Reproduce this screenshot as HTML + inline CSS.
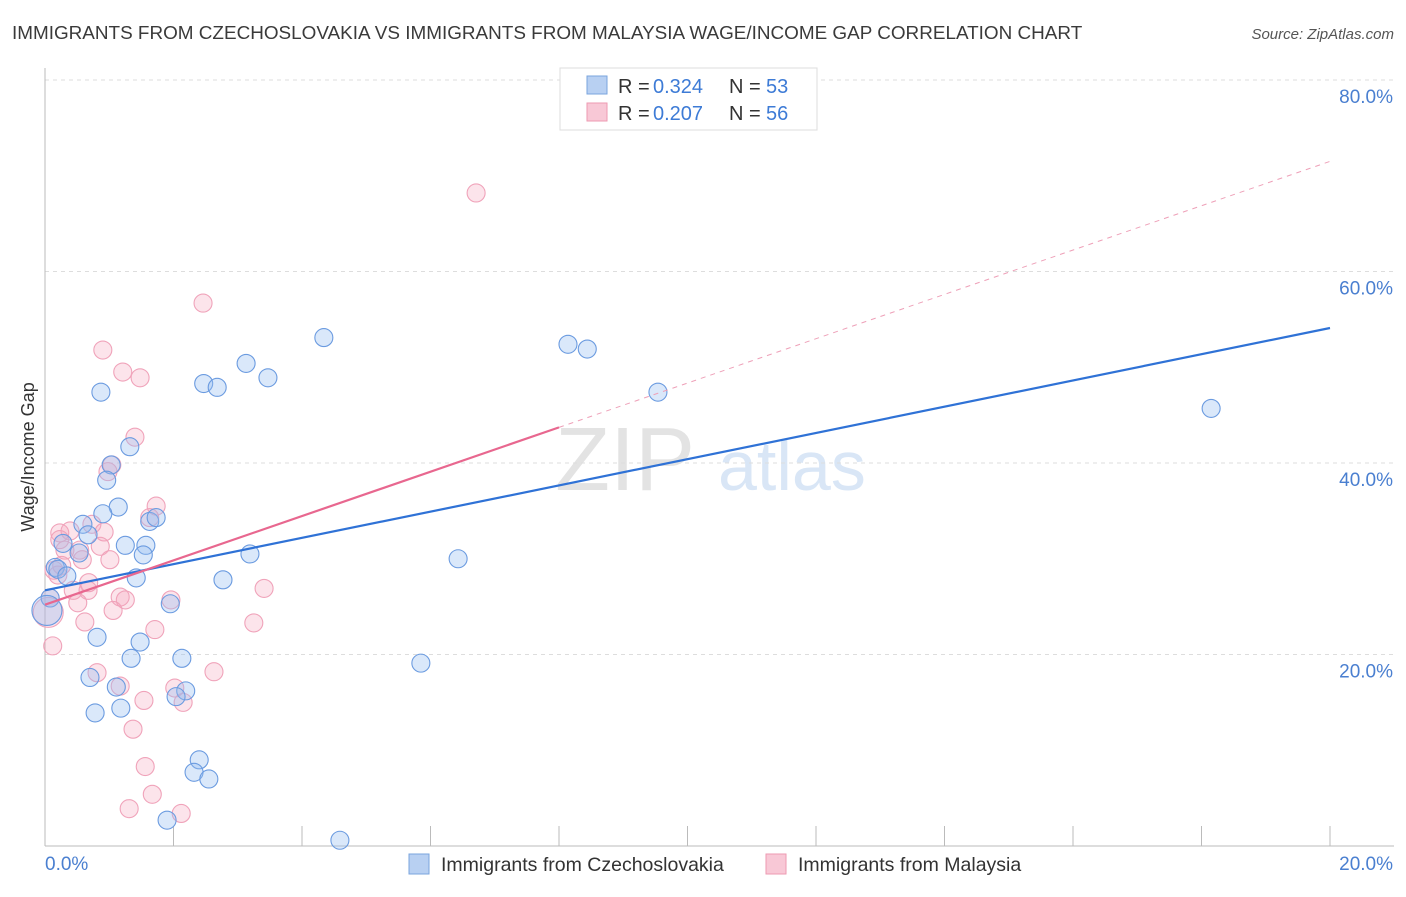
<!DOCTYPE html>
<html><head><meta charset="utf-8"><style>
body{margin:0;background:#fff;font-family:"Liberation Sans",sans-serif;}
svg text{font-family:"Liberation Sans",sans-serif;}
</style></head><body>
<svg id="chart" width="1406" height="892" xmlns="http://www.w3.org/2000/svg">
<text x="12" y="39" font-size="18.9" fill="#3a3a3a">IMMIGRANTS FROM CZECHOSLOVAKIA VS IMMIGRANTS FROM MALAYSIA WAGE/INCOME GAP CORRELATION CHART</text>
<text x="1394" y="39" font-size="15" fill="#555" text-anchor="end" font-style="italic">Source: ZipAtlas.com</text>
<text transform="translate(34,457) rotate(-90)" font-size="18" fill="#333" text-anchor="middle">Wage/Income Gap</text>
<g>
<text x="555" y="490" font-size="90" fill="#d8d8d8" font-family="Liberation Serif,serif" opacity="0.7">ZIP</text>
<text x="718" y="490" font-size="70" fill="#c9dcf3" opacity="0.7">atlas</text>
</g>
<g id="grid"></g>
<g id="axes"></g>
<g id="pts"></g>
<g id="lines"></g>
<g>
<rect x="560" y="68" width="257" height="62" fill="#fff" stroke="#ddd"/>
<rect x="587" y="76" width="20" height="18" fill="#b8d0f2" stroke="#7aa4de"/>
<text x="618" y="93" font-size="20" fill="#333">R =</text><text x="653" y="93" font-size="20" fill="#3d7bd6">0.324</text>
<text x="729" y="93" font-size="20" fill="#333">N =</text><text x="766" y="93" font-size="20" fill="#3d7bd6">53</text>
<rect x="587" y="103" width="20" height="18" fill="#f8c8d6" stroke="#ee9ab2"/>
<text x="618" y="120" font-size="20" fill="#333">R =</text><text x="653" y="120" font-size="20" fill="#3d7bd6">0.207</text>
<text x="729" y="120" font-size="20" fill="#333">N =</text><text x="766" y="120" font-size="20" fill="#3d7bd6">56</text>
</g>
<g>
<rect x="409" y="854" width="20" height="20" fill="#b8d0f2" stroke="#7aa4de"/>
<text x="441" y="871" font-size="19.5" fill="#333">Immigrants from Czechoslovakia</text>
<rect x="766" y="854" width="20" height="20" fill="#f8c8d6" stroke="#ee9ab2"/>
<text x="798" y="871" font-size="19.5" fill="#333">Immigrants from Malaysia</text>
</g>
</svg>
<script>
const yTicks=[20,40,60,80];
const yTickLabels=["20.0%","40.0%","60.0%","80.0%"];
const xTicks=[0,2,4,6,8,10,12,14,16,18,20];
const czX=[0.87,2.47,2.68,3.13,3.47,4.34,8.14,8.44,9.54,18.15,1.32,1.03,0.96,1.14,0.90,0.59,1.63,1.73,0.67,0.28,1.25,1.57,0.53,1.53,3.19,6.43,0.16,0.20,0.34,1.42,2.77,0.08,1.95,0.81,1.48,1.34,2.13,5.85,0.70,1.11,2.19,2.04,1.18,0.78,2.40,2.32,2.55,1.90,4.59,0.03];
const czY=[47.4,48.3,47.9,50.4,48.9,53.1,52.4,51.9,47.4,45.7,41.7,39.8,38.2,35.4,34.7,33.6,33.9,34.3,32.5,31.6,31.4,31.4,30.6,30.4,30.5,30.0,29.1,28.9,28.2,28.0,27.8,25.9,25.3,21.8,21.3,19.6,19.6,19.1,17.6,16.6,16.2,15.6,14.4,13.9,9.0,7.7,7.0,2.7,0.6,24.6];
const myX=[6.71,2.46,0.90,1.21,1.48,1.40,1.04,0.98,1.73,1.63,0.73,0.23,0.39,0.92,0.23,0.31,0.86,0.54,1.01,0.58,0.26,0.14,0.20,0.68,0.67,0.44,1.17,1.25,0.08,0.51,1.96,3.41,1.06,0.62,1.71,3.25,0.12,0.81,2.63,1.17,2.02,1.54,2.15,1.37,1.56,1.67,2.12,1.31,0.05];
const myY=[68.2,56.7,51.8,49.5,48.9,42.7,39.8,39.1,35.5,34.3,33.6,32.7,32.9,32.8,32.0,30.9,31.3,30.9,29.9,29.9,29.3,28.8,28.3,27.5,26.7,26.7,26.0,25.7,25.9,25.4,25.7,26.9,24.6,23.4,22.6,23.3,20.9,18.1,18.2,16.7,16.5,15.2,15.0,12.2,8.3,5.4,3.4,3.9,24.4];
const czTrend=[26.7,54.1];
const myTrend=[25.2,71.5];
const NS="http://www.w3.org/2000/svg";
const X=v=>45+v*64.25, Y=v=>846-v*9.575;
function mk(p,t,a){const e=document.createElementNS(NS,t);for(const k in a)e.setAttribute(k,a[k]);p.appendChild(e);return e;}
const grid=document.getElementById('grid'),axes=document.getElementById('axes'),pts=document.getElementById('pts'),lines=document.getElementById('lines');
yTicks.forEach((t,i)=>{
 const l=mk(grid,'line',{x1:45,x2:1394,y1:Y(t),y2:Y(t),stroke:'#ddd','stroke-dasharray':'4,4'});
 
 
 const tx=mk(axes,'text',{x:1393,y:Y(t)+23,'font-size':19,fill:'#4a7fd0','text-anchor':'end'});tx.textContent=yTickLabels[i];
 
 
});
mk(axes,'line',{x1:45,x2:45,y1:68,y2:846,stroke:'#bbb'});
mk(axes,'line',{x1:45,x2:1394,y1:846,y2:846,stroke:'#bbb'});
xTicks.forEach(t=>{if(t>0){const l=mk(axes,'line',{x1:X(t),x2:X(t),y1:826,y2:846,stroke:'#bbb'});
 
 }});
let a=mk(axes,'text',{x:45,y:870,'font-size':19,fill:'#4a7fd0'});a.textContent='0.0%';


a=mk(axes,'text',{x:1393,y:870,'font-size':19,fill:'#4a7fd0','text-anchor':'end'});a.textContent='20.0%';


function dots(xs,ys,fill,stroke,name){xs.forEach((x,i)=>{const big=i===xs.length-1;
 const c=mk(pts,'circle',{cx:X(x),cy:Y(ys[i]),r:big?15:9,fill:fill,stroke:stroke,'stroke-width':1.1});
 
 });}
dots(myX,myY,'rgba(245,165,188,0.3)','#f0a3ba','point-malaysia');
dots(czX,czY,'rgba(150,190,240,0.35)','#6b9be0','point-czechoslovakia');
let L=mk(lines,'line',{x1:X(0),y1:Y(czTrend[0]),x2:X(20),y2:Y(czTrend[1]),stroke:'#2f72d6','stroke-width':2.2});


const myAt=v=>myTrend[0]+(myTrend[1]-myTrend[0])*v/20;
L=mk(lines,'line',{x1:X(0),y1:Y(myTrend[0]),x2:X(8),y2:Y(myAt(8)),stroke:'#e8678f','stroke-width':2.2});


L=mk(lines,'line',{x1:X(8),y1:Y(myAt(8)),x2:X(20),y2:Y(myTrend[1]),stroke:'#eea0b8','stroke-width':1,'stroke-dasharray':'5,5'});


</script>
</body></html>
